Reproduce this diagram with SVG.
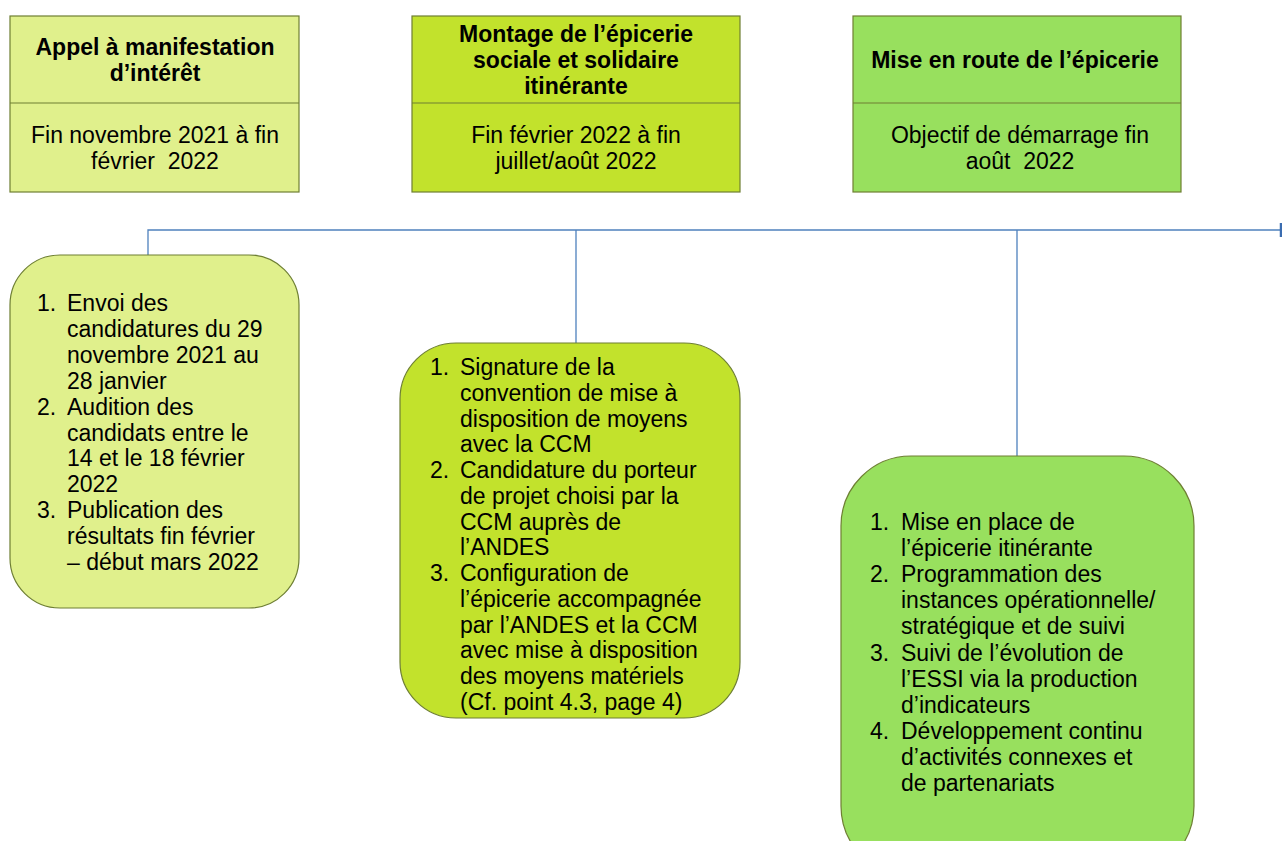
<svg xmlns="http://www.w3.org/2000/svg" width="1282" height="841" viewBox="0 0 1282 841">
<style>
.box{stroke:#6e7f33;stroke-width:1.2}
.c1{fill:#e0f08c}
.c2{fill:#c2e22c}
.c3{fill:#98e05e}
.t{font-family:"Liberation Sans",Arial,sans-serif;font-size:23px;fill:#000;white-space:pre}
.b{font-weight:bold}
.m{text-anchor:middle}
.conn{stroke:#4f81bd;stroke-width:1.3;fill:none}
</style>
<rect width="1282" height="841" fill="#fff"/>
<g id="connectors">
<path class="conn" d="M148,255 V230 H1281 M576,230 V343 M1017,230 V456"/>
<path d="M1281,223 V237" stroke="#3a6cb0" stroke-width="2.5"/>
</g>
<g id="phase1">
<rect class="box c1" x="10" y="16" width="289" height="176"/>
<line class="box" x1="10" y1="103" x2="299" y2="103"/>
<text class="t b m" x="155" y="55">Appel à manifestation</text>
<text class="t b m" x="155" y="81">d’intérêt</text>
<text class="t m" x="155" y="143">Fin novembre 2021 à fin</text>
<text class="t m" x="155" y="169">février  2022</text>
</g>
<g id="phase2">
<rect class="box c2" x="412" y="16" width="328" height="176"/>
<line class="box" x1="412" y1="103" x2="740" y2="103"/>
<text class="t b m" x="576" y="42">Montage de l’épicerie</text>
<text class="t b m" x="576" y="68">sociale et solidaire</text>
<text class="t b m" x="576" y="94">itinérante</text>
<text class="t m" x="576" y="143">Fin février 2022 à fin</text>
<text class="t m" x="576" y="169">juillet/août 2022</text>
</g>
<g id="phase3">
<rect class="box c3" x="853" y="16" width="328" height="176"/>
<line class="box" x1="853" y1="103" x2="1181" y2="103"/>
<text class="t b m" x="1015" y="68">Mise en route de l’épicerie</text>
<text class="t m" x="1020" y="143">Objectif de démarrage fin</text>
<text class="t m" x="1020" y="169">août  2022</text>
</g>
<g id="steps1">
<rect class="box c1" x="10" y="255" width="289" height="353" rx="50" ry="50"/>
<text class="t" x="37" y="311">1.<tspan x="37" dy="103.5">2.</tspan><tspan x="37" dy="103.5">3.</tspan></text>
<text class="t" x="67" y="311">Envoi des<tspan x="67" dy="25.9">candidatures du 29</tspan><tspan x="67" dy="25.9">novembre 2021 au</tspan><tspan x="67" dy="25.9">28 janvier</tspan><tspan x="67" dy="25.9">Audition des</tspan><tspan x="67" dy="25.9">candidats entre le</tspan><tspan x="67" dy="25.9">14 et le 18 février</tspan><tspan x="67" dy="25.9">2022</tspan><tspan x="67" dy="25.9">Publication des</tspan><tspan x="67" dy="25.9">résultats fin février</tspan><tspan x="67" dy="25.9">– début mars 2022</tspan></text>
</g>
<g id="steps2">
<rect class="box c2" x="400" y="343" width="340" height="375" rx="56" ry="56"/>
<text class="t" x="430" y="375">1.<tspan x="430" dy="103">2.</tspan><tspan x="430" dy="103">3.</tspan></text>
<text class="t" x="460" y="375">Signature de la<tspan x="460" dy="25.75">convention de mise à</tspan><tspan x="460" dy="25.75">disposition de moyens</tspan><tspan x="460" dy="25.75">avec la CCM</tspan><tspan x="460" dy="25.75">Candidature du porteur</tspan><tspan x="460" dy="25.75">de projet choisi par la</tspan><tspan x="460" dy="25.75">CCM auprès de</tspan><tspan x="460" dy="25.75">l’ANDES</tspan><tspan x="460" dy="25.75">Configuration de</tspan><tspan x="460" dy="25.75">l’épicerie accompagnée</tspan><tspan x="460" dy="25.75">par l’ANDES et la CCM</tspan><tspan x="460" dy="25.75">avec mise à disposition</tspan><tspan x="460" dy="25.75">des moyens matériels</tspan><tspan x="460" dy="25.75">(Cf. point 4.3, page 4)</tspan></text>
</g>
<g id="steps3">
<rect class="box c3" x="841" y="456" width="353" height="420" rx="70" ry="70"/>
<text class="t" x="870" y="530">1.<tspan x="870" dy="52.2">2.</tspan><tspan x="870" dy="78.3">3.</tspan><tspan x="870" dy="78.3">4.</tspan></text>
<text class="t" x="901" y="530">Mise en place de<tspan x="901" dy="26.1">l’épicerie itinérante</tspan><tspan x="901" dy="26.1">Programmation des</tspan><tspan x="901" dy="26.1">instances opérationnelle/</tspan><tspan x="901" dy="26.1">stratégique et de suivi</tspan><tspan x="901" dy="26.1">Suivi de l’évolution de</tspan><tspan x="901" dy="26.1">l’ESSI via la production</tspan><tspan x="901" dy="26.1">d’indicateurs</tspan><tspan x="901" dy="26.1">Développement continu</tspan><tspan x="901" dy="26.1">d’activités connexes et</tspan><tspan x="901" dy="26.1">de partenariats</tspan></text>
</g>
</svg>
